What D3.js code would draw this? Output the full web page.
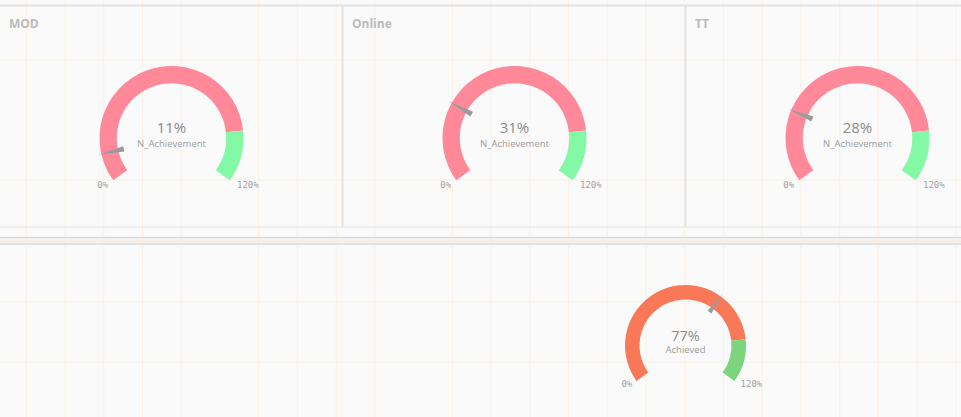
<!DOCTYPE html>
<html>
<head>
<meta charset="utf-8">
<script src="https://cdn.jsdelivr.net/npm/d3@7"></script>
<style>
  body { margin: 0; background: #fafafa; }
  svg { display: block; }
  text { font-family: "Open Sans", sans-serif; }
  .title { font-size: 12px; font-weight: 700; fill: #bababa; }
  .value { fill: #8c8c8c; text-anchor: middle; }
  .measure { fill: #9c9c9c; text-anchor: middle; font-size: 9.5px; }
  .tick_label { font-family: "DejaVu Sans Mono", monospace; font-size: 9px; fill: #a3a3a3; }
</style>
</head>
<body>
<svg id="chart" width="961" height="417"></svg>
<script>
const panels = ["MOD", "Online", "TT"];
const panel_values = [11, 31, 28];
const panel_measure = "N_Achievement";
const total_value = 77;
const total_measure = "Achieved";
const gauge_domain = [0, 120];
const gauge_bands = [[0, 100], [100, 120]];
const tick_labels = ["0%", "120%"];

const width = 961, height = 417;
const svg = d3.select("#chart");

function draw_grid() {
  let g = svg.append("g").attr("id", "grid");
  let cols = d3.range(0, 25).filter(k => k != 5 && k != 10);
  let x = d3.scaleLinear().domain([0, 1]).range([26.3, 26.3 + 38.73]);
  g.selectAll("line.v")
    .data(cols).enter()
    .append("line")
    .attr("class", "v")
    .attr("x1", d => x(d)).attr("x2", d => x(d))
    .attr("y1", 0).attr("y2", height)
    .attr("stroke", "#fcf0e6")
    .attr("stroke-width", 1);
  g.selectAll("line.h")
    .data([60, 180, 302, 362]).enter()
    .append("line")
    .attr("class", "h")
    .attr("x1", 0).attr("x2", width)
    .attr("y1", d => d).attr("y2", d => d)
    .attr("stroke", "#fcf0e6")
    .attr("stroke-width", 1);
}

function draw_frame(x) {
  let g = svg.append("g").attr("id", "frame");
  g.append("line")
    .attr("x1", 0).attr("x2", width).attr("y1", 5.5).attr("y2", 5.5)
    .attr("stroke", "#e2e2e2").attr("stroke-width", 2);
  g.append("line")
    .attr("x1", 0).attr("x2", width).attr("y1", 227).attr("y2", 227)
    .attr("stroke", "#e4e4e4").attr("stroke-width", 1);
  g.selectAll("line.sep")
    .data(panels.slice(1)).enter()
    .append("line")
    .attr("class", "sep")
    .attr("x1", d => x(d) - 0.5).attr("x2", d => x(d) - 0.5)
    .attr("y1", 5).attr("y2", 227)
    .attr("stroke", "#e2e2e2").attr("stroke-width", 2);
  // divider between the two sections
  g.append("rect")
    .attr("x", 0).attr("y", 237).attr("width", width).attr("height", 8)
    .attr("fill", "#f3f3f3");
  g.append("line")
    .attr("x1", 0).attr("x2", width).attr("y1", 241).attr("y2", 241)
    .attr("stroke", "#fbe6d4").attr("stroke-width", 1);
  g.selectAll("line.div")
    .data([237.5, 244]).enter()
    .append("line")
    .attr("class", "div")
    .attr("x1", 0).attr("x2", width)
    .attr("y1", d => d).attr("y2", d => d)
    .attr("stroke", "#dadada").attr("stroke-width", 1.6);
}

function draw_gauge(g, value, measure, r, colors, value_size) {
  let angle = d3.scaleLinear()
    .domain(gauge_domain)
    .range([-0.7 * Math.PI, 0.7 * Math.PI]);

  let arc = d3.arc()
    .innerRadius(r * 0.76)
    .outerRadius(r)
    .startAngle(d => angle(d[0]))
    .endAngle(d => angle(d[1]));

  g.selectAll("path.band")
    .data(gauge_bands).enter()
    .append("path")
    .attr("class", "band")
    .attr("d", arc)
    .attr("fill", (d, i) => colors[i]);

  let w = r * 0.075;
  let needle = d3.line()([[-w / 2, -r * 0.68], [w / 2, -r * 0.68], [0, -r * 1.04]]) + "Z";
  g.append("path")
    .attr("d", needle)
    .attr("fill", "#9b9b9b")
    .attr("transform", `rotate(${angle(value) * 180 / Math.PI})`);

  g.append("text")
    .attr("class", "value")
    .attr("y", -r * 0.075)
    .style("font-size", value_size + "px")
    .text(value + "%");
  g.append("text")
    .attr("class", "measure")
    .attr("y", r * 0.125)
    .text(measure);

  g.selectAll("text.tick_label")
    .data(tick_labels).enter()
    .append("text")
    .attr("class", "tick_label")
    .attr("x", (d, i) => i == 0 ? -r * 0.88 : r * 0.91)
    .attr("y", r * 0.69)
    .attr("text-anchor", (d, i) => i == 0 ? "end" : "start")
    .text(d => d);
}

function visualize() {
  let x = d3.scaleBand().domain(panels).range([0, 343 * 3]);
  draw_grid();
  draw_frame(x);

  let top = svg.selectAll("g.panel")
    .data(panels).enter()
    .append("g")
    .attr("class", "panel")
    .attr("transform", d => `translate(${x(d)}, 0)`);

  top.append("text")
    .attr("class", "title")
    .attr("x", 9).attr("y", 28)
    .text(d => d);

  top.each(function(d, i) {
    let g = d3.select(this).append("g")
      .attr("transform", `translate(${x.bandwidth() / 2}, 138)`);
    draw_gauge(g, panel_values[i], panel_measure, 72, ["#ff8899", "#84f9a5"], 15);
  });

  let bottom = svg.append("g")
    .attr("transform", "translate(685.5, 345.5)");
  draw_gauge(bottom, total_value, total_measure, 60.5, ["#f87858", "#7cd57c"], 14.5);
}

visualize();
</script>
</body>
</html>
